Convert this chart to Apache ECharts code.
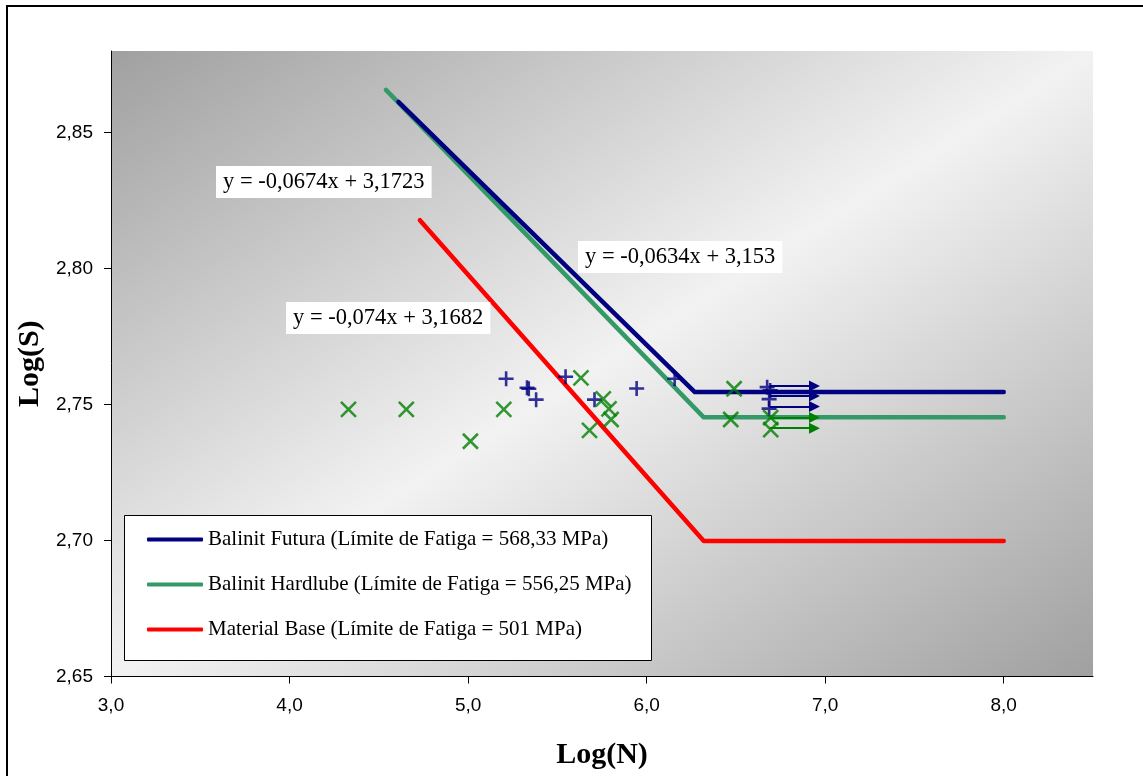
<!DOCTYPE html>
<html>
<head>
<meta charset="utf-8">
<script src="https://cdn.jsdelivr.net/npm/echarts@6/dist/echarts.min.js"></script>
<style>
html,body{margin:0;padding:0;background:#fff;}
#chart{width:1143px;height:776px;}
</style>
</head>
<body>
<div id="chart"></div>
<script>
// ---- data ----
const xTicks = [3, 4, 5, 6, 7, 8];
const yTicks = [2.65, 2.70, 2.75, 2.80, 2.85];
const seriesNames = [
  'Balinit Futura (Límite de Fatiga = 568,33 MPa)',
  'Balinit Hardlube (Límite de Fatiga = 556,25 MPa)',
  'Material Base (Límite de Fatiga = 501 MPa)'
];
const futuraLine = [[4.61, 2.8613], [6.27, 2.7546], [8.0, 2.7546]];
const hardlubeLine = [[4.54, 2.8657], [6.32, 2.7453], [8.0, 2.7453]];
const baseLine = [[4.73, 2.8178], [6.32, 2.6998], [8.0, 2.6998]];
const futuraPts = [
  [5.213, 2.7595], [5.330, 2.7562], [5.340, 2.7558], [5.381, 2.7518],
  [5.546, 2.7602], [5.708, 2.7518], [5.944, 2.7559], [6.157, 2.7595],
  [6.675, 2.7564], [6.692, 2.7552], [6.686, 2.7520], [6.686, 2.7485]
];
const hardlubePts = [
  [4.330, 2.7482], [4.654, 2.7482], [5.200, 2.7482], [5.013, 2.7365],
  [5.632, 2.7598], [5.757, 2.7521], [5.789, 2.7484], [5.801, 2.7445],
  [5.680, 2.7405], [6.490, 2.7558], [6.471, 2.7445], [6.695, 2.7452],
  [6.695, 2.7408]
];
const runoutStart = 6.69;
const runoutEnd = 6.94;
const futuraRunouts = [2.7568, 2.7531, 2.7493];
const hardlubeRunouts = [2.7452, 2.7413];
const equations = ['y = -0,0674x + 3,1723', 'y = -0,0634x + 3,153', 'y = -0,074x + 3,1682'];

// ---- styles ----
const NAVY = '#000080', SEA = '#339966', GREEN = '#008000', RED = '#ff0000';
const SANS = '"Liberation Sans", Arial, sans-serif';
const SERIF = '"Liberation Serif", "Times New Roman", serif';
const fmt = v => (Math.round(v * 100) / 100).toFixed(2).replace('.', ',');
const fmtX = v => v.toFixed(1).replace('.', ',');

const chart = echarts.init(document.getElementById('chart'), null, {renderer: 'canvas'});

function runoutData(ys) {
  return ys.map(y => ({coords: [[runoutStart, y], [runoutEnd, y]]}));
}

const eqPos = [[216, 166], [578, 241], [286, 302]];

chart.setOption({
  animation: false,
  backgroundColor: '#ffffff',
  grid: {
    left: 111, top: 51, right: 50, bottom: 99.5,
    show: true, borderWidth: 0,
    backgroundColor: {
      type: 'linear', x: 0, y: 0, x2: 0.577, y2: 1.423,
      colorStops: [
        {offset: 0, color: '#a0a0a0'},
        {offset: 0.5, color: '#f2f2f2'},
        {offset: 1, color: '#a0a0a0'}
      ]
    }
  },
  xAxis: {
    type: 'value', min: 3, max: 8.5,
    name: 'Log(N)', nameLocation: 'middle', nameGap: 64,
    nameTextStyle: {fontFamily: SERIF, fontSize: 30, fontWeight: 'bold', color: '#000'},
    axisLine: {show: true, onZero: false, lineStyle: {color: '#000', width: 1}},
    axisTick: {show: true, length: 7, customValues: xTicks, lineStyle: {color: '#000'}},
    axisLabel: {customValues: xTicks, formatter: fmtX, margin: 20,
      fontFamily: SANS, fontSize: 19, color: '#000'},
    splitLine: {show: false}
  },
  yAxis: {
    type: 'value', min: 2.65, max: 2.88,
    name: 'Log(S)', nameLocation: 'middle', nameGap: 56,
    nameTextStyle: {fontFamily: SERIF, fontSize: 30, fontWeight: 'bold', color: '#000'},
    axisLine: {show: true, onZero: false, lineStyle: {color: '#000', width: 1}},
    axisTick: {show: true, length: 7, customValues: yTicks, lineStyle: {color: '#000'}},
    axisLabel: {customValues: yTicks, formatter: fmt, margin: 18,
      fontFamily: SANS, fontSize: 19, color: '#000'},
    splitLine: {show: false}
  },
  legend: {
    orient: 'vertical', left: 124, top: 515,
    padding: [14, 23, 22, 23],
    itemWidth: 56, itemHeight: 4, itemGap: 24,
    icon: 'roundRect',
    data: seriesNames,
    textStyle: {fontFamily: SERIF, fontSize: 21, color: '#000', padding: [0, 0, 0, 0]},
    selectedMode: false,
    z: 6
  },
  graphic: [
    {type: 'rect', z: 5, shape: {x: 124.5, y: 515.5, width: 527, height: 145},
      style: {fill: '#fff', stroke: '#000', lineWidth: 1}},
    {type: 'rect', z: 10, silent: true, shape: {x: 7, y: 6, width: 1145, height: 780},
      style: {fill: 'none', stroke: '#000', lineWidth: 2}}
  ].concat(equations.map((t, i) => ({
    type: 'text', z: 7, x: eqPos[i][0], y: eqPos[i][1],
    style: {text: t, font: '22.5px ' + SERIF, fill: '#000',
      backgroundColor: '#fff', padding: [5, 7, 4, 7]}
  }))),
  series: [
    {name: seriesNames[0], type: 'line', data: futuraLine, symbol: 'none', color: NAVY,
      lineStyle: {width: 4.5, color: NAVY, cap: 'round', join: 'round'}, z: 3},
    {name: seriesNames[1], type: 'line', data: hardlubeLine, symbol: 'none', color: SEA,
      lineStyle: {width: 4.5, color: SEA, cap: 'round', join: 'round'}, z: 2},
    {name: seriesNames[2], type: 'line', data: baseLine, symbol: 'none', color: RED,
      lineStyle: {width: 4.5, color: RED, cap: 'round', join: 'round'}, z: 2},
    {name: 'Futura pts', type: 'scatter', data: futuraPts, z: 4,
      symbol: 'path://M0,-8L0,8M-8,0L8,0', symbolSize: 15,
      itemStyle: {color: 'none', borderColor: NAVY, borderWidth: 2.6}},
    {name: 'Hardlube pts', type: 'scatter', data: hardlubePts, z: 4,
      symbol: 'path://M-8,-8L8,8M-8,8L8,-8', symbolSize: 15,
      itemStyle: {color: 'none', borderColor: GREEN, borderWidth: 2.6}},
    {name: 'Futura runouts', type: 'lines', coordinateSystem: 'cartesian2d', z: 4,
      data: runoutData(futuraRunouts), symbol: ['none', 'triangle'], symbolSize: [9, 11],
      lineStyle: {color: NAVY, width: 2.2, opacity: 1}},
    {name: 'Hardlube runouts', type: 'lines', coordinateSystem: 'cartesian2d', z: 4,
      data: runoutData(hardlubeRunouts), symbol: ['none', 'triangle'], symbolSize: [9, 11],
      lineStyle: {color: GREEN, width: 2.2, opacity: 1}}
  ]
});
</script>
</body>
</html>
